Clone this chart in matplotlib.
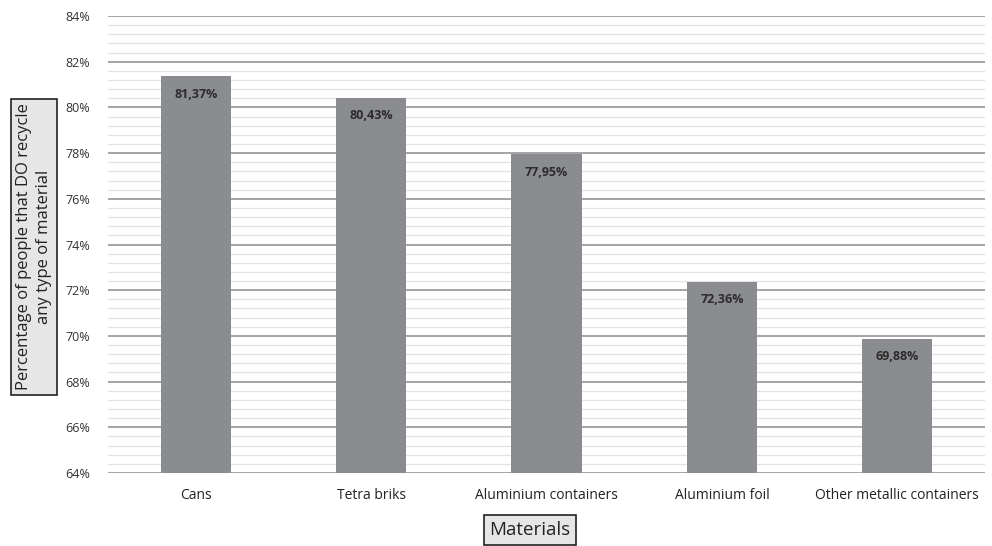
import matplotlib
matplotlib.use("Agg")
import matplotlib.pyplot as plt
from matplotlib.ticker import MultipleLocator, FuncFormatter

categories = ["Cans", "Tetra briks", "Aluminium containers", "Aluminium foil",
              "Other metallic containers"]
values = [81.37, 80.43, 77.95, 72.36, 69.88]

plt.rcParams["font.family"] = ["Open Sans", "DejaVu Sans"]

fig = plt.figure(figsize=(9.92, 5.46), dpi=100)
ax = fig.add_axes([108 / 992, 1 - 473 / 546, 877 / 992, (473 - 16) / 546])

x = range(len(categories))
ax.bar(x, [v - 64 for v in values], bottom=64, width=0.4, color="#8b8c90", zorder=3)

ax.set_ylim(64, 84)
ax.set_xlim(-0.5, len(categories) - 0.5)
ax.yaxis.set_major_locator(MultipleLocator(2))
ax.yaxis.set_minor_locator(MultipleLocator(0.4))
ax.yaxis.set_major_formatter(FuncFormatter(lambda v, p: f"{v:.0f}%"))
ax.grid(axis="y", which="major", color="#8c8c8c", linewidth=1.1, zorder=0)
ax.grid(axis="y", which="minor", color="#e2e2e2", linewidth=0.9, zorder=0)
ax.tick_params(axis="y", which="both", length=0, labelsize=9, colors="#333333", pad=13)
ax.tick_params(axis="x", length=0, labelsize=10, colors="#222222", pad=11)
ax.set_xticks(list(x))
ax.set_xticklabels(categories)
for s in ax.spines.values():
    s.set_visible(False)

for i, v in enumerate(values):
    ax.text(i, v - 0.5, f"{v:.2f}%".replace(".", ","), ha="center", va="top",
            fontsize=9, fontweight="bold", color="#2b2b2b", zorder=4)

box = dict(boxstyle="square,pad=0.3", facecolor="#e6e6e6", edgecolor="#222222", linewidth=1.2)
fig.text(34 / 992, 1 - 247 / 546,
         "Percentage of people that DO recycle\nany type of material",
         rotation=90, ha="center", va="center", fontsize=12, color="#222222",
         linespacing=1.3, bbox=box)
fig.text(530 / 992, 1 - 530 / 546, "Materials", ha="center", va="center",
         fontsize=13.5, color="#222222", bbox=box)

fig.savefig("out.png", dpi=100)
